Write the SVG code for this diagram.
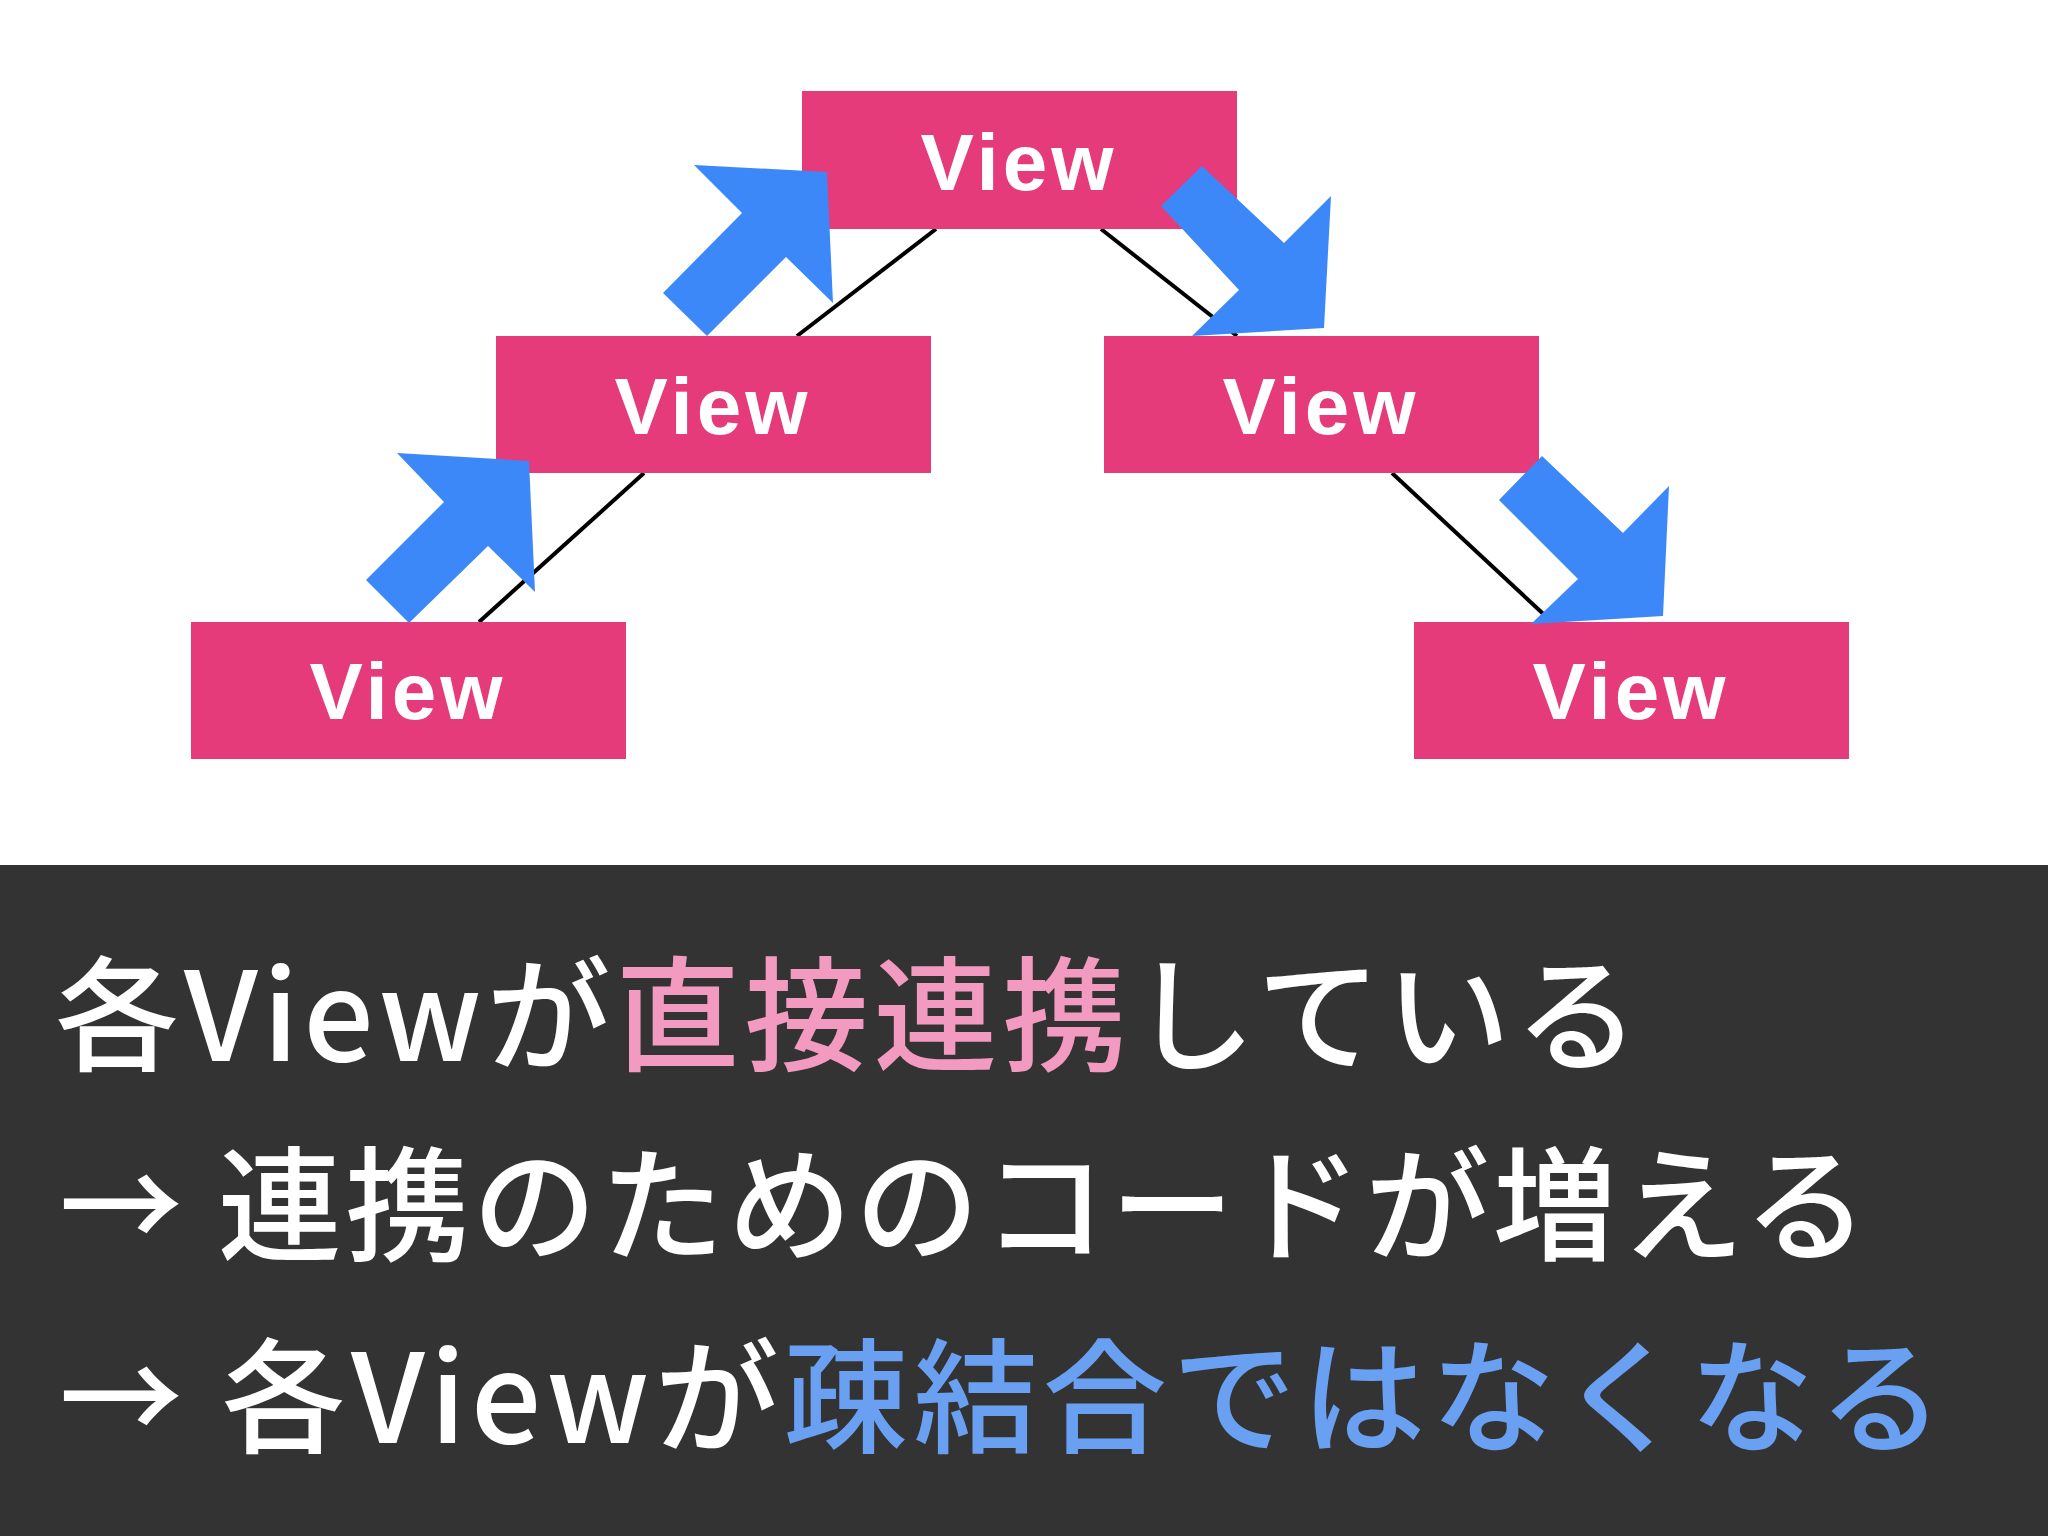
<svg xmlns="http://www.w3.org/2000/svg" width="2048" height="1536" viewBox="0 0 2048 1536">
<style>
.box{fill:#e63b7a}
.lbl{fill:#fff;font-family:"Liberation Sans",Arial,sans-serif;font-size:80px;font-weight:bold;text-anchor:middle;letter-spacing:4px}
.arr{fill:#3d88f8}
.ln{stroke:#000;stroke-width:4}
.t{font-family:"Noto Sans CJK JP","Noto Sans",sans-serif;font-size:124px;font-weight:500;fill:#fff}
.pk{fill:#f29ac0}
.bl{fill:#6aa0f2}
</style>
<rect width="2048" height="1536" fill="#fff"/>
<g id="connectors">
<line class="ln" x1="479" y1="622" x2="644" y2="473"/>
<line class="ln" x1="797" y1="336" x2="936" y2="229"/>
<line class="ln" x1="1101" y1="229" x2="1237" y2="336"/>
<line class="ln" x1="1392" y1="473" x2="1552" y2="622"/>
</g>
<g id="view-top"><rect class="box" x="802" y="91" width="435" height="138"/><text class="lbl" x="1019" y="190">View</text></g>
<g id="view-midleft"><rect class="box" x="496" y="336" width="435" height="137"/><text class="lbl" x="713" y="434">View</text></g>
<g id="view-midright"><rect class="box" x="1104" y="336" width="435" height="137"/><text class="lbl" x="1321" y="434">View</text></g>
<g id="view-botleft"><rect class="box" x="191" y="622" width="435" height="137"/><text class="lbl" x="408" y="719">View</text></g>
<g id="view-botright"><rect class="box" x="1414" y="622" width="435" height="137"/><text class="lbl" x="1631" y="719">View</text></g>
<g id="arrows">
<polygon class="arr" points="366,580 444,502 397,453 529,461 535,592 488,546 409,623"/>
<polygon class="arr" points="663,293 742,213 694,165 827,172 833,303 786,257 707,336"/>
<polygon class="arr" points="1161,206 1202,166 1284,243 1331,196 1324,328 1192,336 1239,290"/>
<polygon class="arr" points="1499,500 1542,456 1623,533 1669,486 1663,616 1531,624 1578,579"/>
</g>
<rect x="0" y="865" width="2048" height="671" fill="#333333"/>
<text class="t" x="55" y="1061" textLength="1584" lengthAdjust="spacing">各Viewが<tspan class="pk">直接連携</tspan>している</text>
<text class="t" x="59" y="1251" textLength="1809" lengthAdjust="spacing">→ 連携のためのコードが増える</text>
<text class="t" x="59" y="1443" textLength="1884" lengthAdjust="spacing">→ 各Viewが<tspan class="bl">疎結合ではなくなる</tspan></text>
</svg>
